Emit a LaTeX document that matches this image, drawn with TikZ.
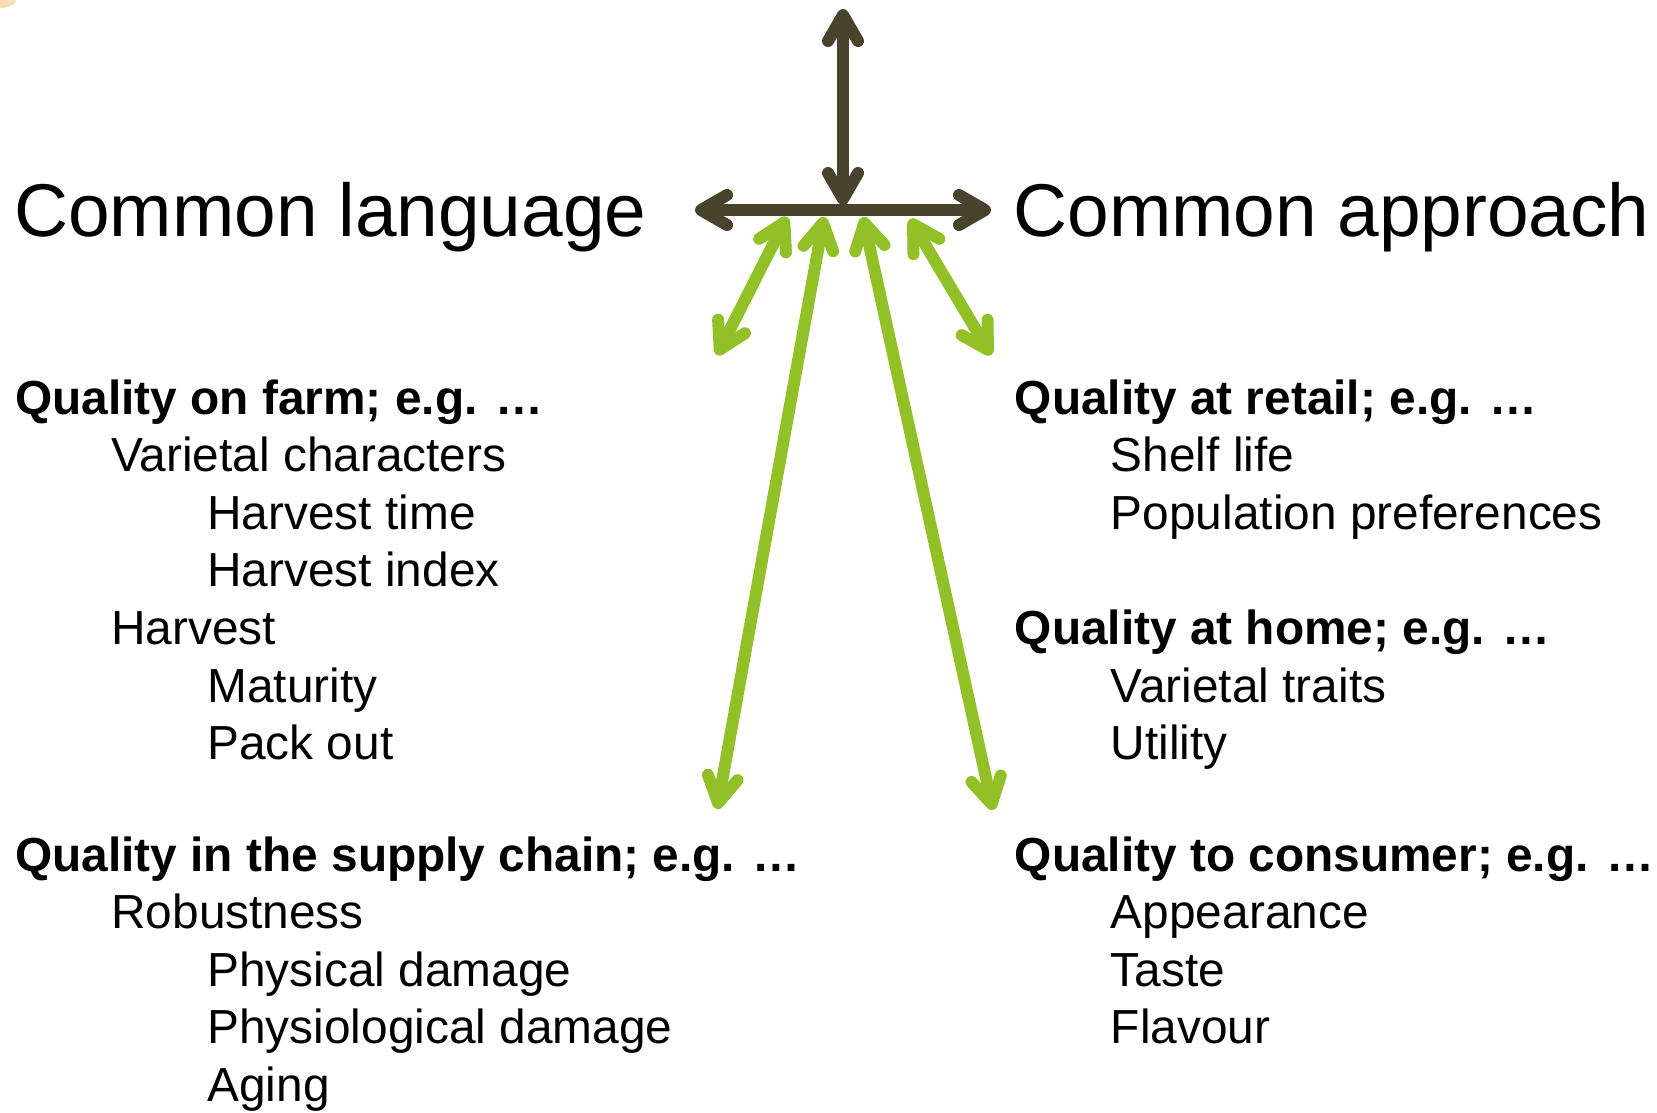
\documentclass[tikz,border=0pt]{standalone}
\usepackage{fontspec}
\setmainfont{Liberation Sans}
\usetikzlibrary{arrows.meta}
\definecolor{darkarrow}{RGB}{73,66,44}
\definecolor{greenarrow}{RGB}{145,193,38}
\definecolor{cornerorange}{RGB}{240,190,110}
\tikzset{vtip/.tip={Straight Barb[length=13pt,width=15pt,line cap=round,line join=round]}}
\begin{document}
\begin{tikzpicture}[x=0.5pt,y=-0.5pt,
  headline/.style={anchor=base west,inner sep=0pt,font=\fontsize{37.4}{44}\selectfont},
  boldhead/.style={anchor=base west,inner sep=0pt,font=\fontsize{23.9}{28}\selectfont\bfseries},
  item/.style={anchor=base west,inner sep=0pt,font=\fontsize{23.9}{28}\selectfont},
  darkconn/.style={draw=darkarrow,line width=6pt,line cap=round,vtip-vtip},
  greenconn/.style={draw=greenarrow,line width=6pt,line cap=round,vtip-vtip}]
\useasboundingbox (0,0) rectangle (1657,1112);
\fill[white] (0,0) rectangle (1657,1112);
% faint corner mark
\fill[cornerorange,opacity=0.5] (0,0) ellipse (16 and 8);

% headlines
\node[headline] (cl) at (14,237) {Common language};
\node[headline] (ca) at (1013,237) {Common approach};

% left column
\def\la{15}\def\lb{111}\def\lc{207}
\node[boldhead] (farm) at (\la,414) {Quality on farm; e.g. …};
\node[item] (vc) at (\lb,471.6) {Varietal characters};
\node[item] (ht) at (\lc,529.2) {Harvest time};
\node[item] (hi) at (\lc,586.8) {Harvest index};
\node[item] (hv) at (\lb,644.4) {Harvest};
\node[item] (mt) at (\lc,702) {Maturity};
\node[item] (po) at (\lc,759.6) {Pack out};

\node[boldhead] (sc) at (\la,871) {Quality in the supply chain; e.g. …};
\node[item] (rb) at (\lb,928.6) {Robustness};
\node[item] (pd) at (\lc,986.2) {Physical damage};
\node[item] (pgd) at (\lc,1043.8) {Physiological damage};
\node[item] (ag) at (\lc,1101.4) {Aging};

% right column
\def\ra{1014.5}\def\rb{1110.5}
\node[boldhead] (ret) at (\ra,414) {Quality at retail; e.g. …};
\node[item] (sl) at (\rb,471.6) {Shelf life};
\node[item] (pp) at (\rb,529.2) {Population preferences};
\node[boldhead] (home) at (\ra,644.4) {Quality at home; e.g. …};
\node[item] (vt) at (\rb,702) {Varietal traits};
\node[item] (ut) at (\rb,759.6) {Utility};
\node[boldhead] (cons) at (\ra,871) {Quality to consumer; e.g. …};
\node[item] (ap) at (\rb,928.6) {Appearance};
\node[item] (ta) at (\rb,986.2) {Taste};
\node[item] (fl) at (\rb,1043.8) {Flavour};

% arrow end points
\coordinate (vtop) at (843,9);
\coordinate (vbot) at (843,205);
\coordinate (hl) at (695,210);
\coordinate (hr) at (991,210);
\coordinate (g1a) at (787,217);
\coordinate (g1b) at (717,355);
\coordinate (g2a) at (824,217);
\coordinate (g2b) at (717,809);
\coordinate (g3a) at (863,217);
\coordinate (g3b) at (993,810);
\coordinate (g4a) at (910,219);
\coordinate (g4b) at (991,355);

% connectors
\draw[darkconn] (hl) -- (hr);
\draw[darkconn] (vtop) -- (vbot);
\draw[greenconn] (g1a) -- (g1b);
\draw[greenconn] (g2a) -- (g2b);
\draw[greenconn] (g3a) -- (g3b);
\draw[greenconn] (g4a) -- (g4b);
\end{tikzpicture}
\end{document}
